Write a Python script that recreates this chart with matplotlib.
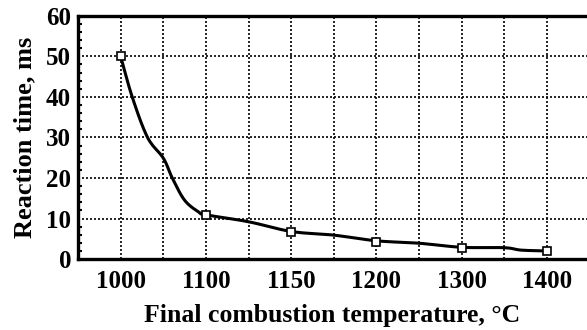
import numpy as np
import matplotlib.pyplot as plt
from matplotlib.ticker import MultipleLocator

# categories on the x axis (placed every second grid line)
temperatures = ["1000", "1100", "1150", "1200", "1300", "1400"]
marker_pos = [0, 2, 4, 6, 8, 10]
reaction_ms = [50, 10.9, 6.7, 4.3, 2.7, 1.9]

# smoothed curve, in grid units
curve_pos = [0, 0.27, 0.63, 1.0, 1.21, 1.5, 1.83, 2, 3, 4, 5, 6, 7, 8, 9, 9.4, 10]
curve_ms = [50, 40, 30, 24.9, 20, 14.5, 11.6, 10.9, 9.2, 6.8, 5.9, 4.5, 3.9, 2.9, 2.8, 2.2, 2.0]


def smooth(xs, ys, n=12):
    # Catmull-Rom pass so the line looks like the smoothed original
    p = np.column_stack([xs, ys]).astype(float)
    p = np.vstack([p[0], p, p[-1]])
    out = []
    t = np.linspace(0, 1, n, endpoint=False)[:, None]
    for i in range(1, len(p) - 2):
        p0, p1, p2, p3 = p[i - 1], p[i], p[i + 1], p[i + 2]
        seg = 0.5 * ((2 * p1) + (-p0 + p2) * t
                     + (2 * p0 - 5 * p1 + 4 * p2 - p3) * t ** 2
                     + (-p0 + 3 * p1 - 3 * p2 + p3) * t ** 3)
        out.append(seg)
    out.append(p[-2][None, :])
    out = np.vstack(out)
    return out[:, 0], out[:, 1]


plt.rcParams["font.family"] = ["Liberation Serif", "DejaVu Serif"]
plt.rcParams["font.weight"] = "bold"
plt.rcParams["axes.labelweight"] = "bold"

fig = plt.figure(figsize=(5.87, 3.30), dpi=100)
ax = fig.add_axes([0.133, 0.215, 0.867, 0.737])

sx, sy = smooth(curve_pos, curve_ms)
ax.plot(sx, sy, color="black", lw=2.2, zorder=3, solid_capstyle="round")
ax.plot(marker_pos, reaction_ms, ls="none", marker="s", ms=6,
        mfc="white", mec="black", mew=1.2, zorder=4)

ax.set_xlim(-1, 10.94)
ax.set_ylim(0, 60)

ax.set_xticks(marker_pos)
ax.set_xticklabels(temperatures, fontweight="bold")
ax.xaxis.set_minor_locator(MultipleLocator(1))
ax.yaxis.set_major_locator(MultipleLocator(10))
ax.yaxis.set_minor_locator(MultipleLocator(2))
for lab in ax.get_yticklabels():
    lab.set_fontweight("bold")

ax.grid(True, which="both", axis="x", color="black", ls=(0, (1.2, 1.2)), lw=1.2)
ax.grid(True, which="major", axis="y", color="black", ls=(0, (1.2, 1.2)), lw=1.2)

ax.tick_params(axis="x", which="both", length=0, pad=8, labelsize=18)
ax.tick_params(axis="y", which="major", length=0, pad=5, labelsize=18)
ax.tick_params(axis="y", which="minor", direction="in", length=3, width=1.5)

for side in ["left", "top", "bottom"]:
    ax.spines[side].set_linewidth(2.4)
    ax.spines[side].set_color("black")
ax.spines["right"].set_visible(False)

ax.set_xlabel("Final combustion temperature, °C", fontsize=18.5,
              fontweight="bold", labelpad=8)
ax.set_ylabel("Reaction time, ms", fontsize=19, fontweight="bold", labelpad=7)

fig.savefig("out.png", dpi=100)
